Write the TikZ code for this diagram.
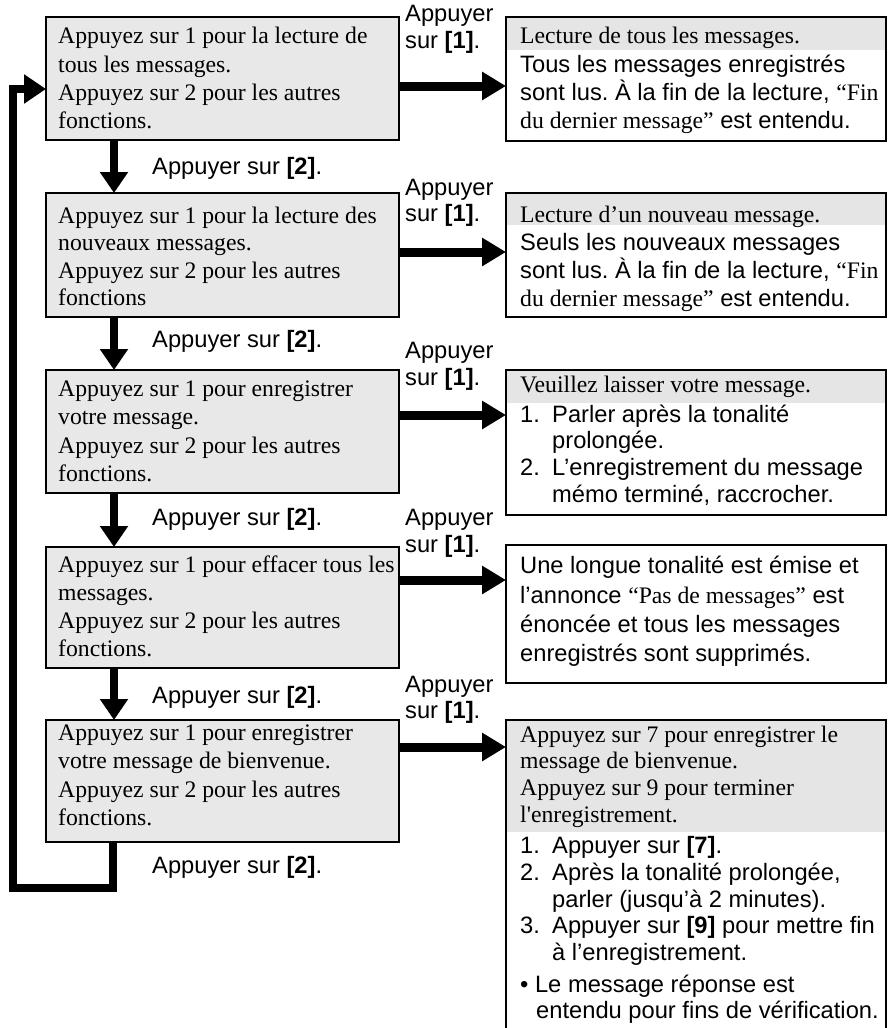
\documentclass[tikz,border=0pt]{standalone}
\usepackage{fontspec}
\setmainfont{Liberation Serif}
\setsansfont{Liberation Sans}
\usetikzlibrary{arrows.meta}
\frenchspacing
\begin{document}
\begin{tikzpicture}[x=1pt,y=-1pt,
  box/.style={draw, line width=2pt, rectangle, anchor=north west, inner sep=0pt, outer sep=0pt},
  lbox/.style={box, fill=black!9, minimum width=353pt},
  rbox/.style={box, fill=white, minimum width=380pt},
  hdr/.style={fill=black!10},
  rm/.style={font=\rmfamily\fontsize{23.7}{27}\selectfont, inner sep=0pt, anchor=base west},
  sf/.style={font=\sffamily\fontsize{23.7}{27}\selectfont, inner sep=0pt, anchor=base west},
  harrow/.style={line width=9pt, -{Triangle[length=24pt,width=27pt]}},
  varrow/.style={line width=8pt, -{Triangle[length=21pt,width=27pt]}},
  backline/.style={line width=8pt, line join=miter, -{Triangle[length=22pt,width=28pt]}}]
\useasboundingbox (0,0) rectangle (888,1028);

% left boxes
\node[lbox, minimum height=123pt] (L1) at (46,17) {};
\node[lbox, minimum height=124pt] (L2) at (46,193) {};
\node[lbox, minimum height=123pt] (L3) at (46,370) {};
\node[lbox, minimum height=121pt] (L4) at (46,547) {};
\node[lbox, minimum height=122pt] (L5) at (46,720) {};

% right boxes
\node[rbox, minimum height=124pt] (R1) at (506,17) {};
\node[rbox, minimum height=124pt] (R2) at (506,193) {};
\node[rbox, minimum height=145pt] (R3) at (506,370) {};
\node[rbox, minimum height=138pt] (R4) at (506,545) {};
\node[rbox, draw=none, minimum height=308pt] (R5) at (506,720) {};
\draw[line width=2pt] (R5.south west) -- (R5.north west) -- (R5.north east) -- (R5.south east);

% headers
\fill[hdr] ([shift={(1,1)}]R1.north west) rectangle ([shift={(-1,33)}]R1.north east);
\fill[hdr] ([shift={(1,1)}]R2.north west) rectangle ([shift={(-1,32)}]R2.north east);
\fill[hdr] ([shift={(1,1)}]R3.north west) rectangle ([shift={(-1,33)}]R3.north east);
\fill[hdr] ([shift={(1,1)}]R5.north west) rectangle ([shift={(-1,112)}]R5.north east);

% left texts
\node[rm] (L1a) at (58,43) {Appuyez sur 1 pour la lecture de};
\node[rm] (L1b) at (58,72) {tous les messages.};
\node[rm] (L1c) at (58,100) {Appuyez sur 2 pour les autres};
\node[rm] (L1d) at (58,128) {fonctions.};

\node[rm] (L2a) at (58,223) {Appuyez sur 1 pour la lecture des};
\node[rm] (L2b) at (58,250) {nouveaux messages.};
\node[rm] (L2c) at (58,278) {Appuyez sur 2 pour les autres};
\node[rm] (L2d) at (58,305) {fonctions};

\node[rm] (L3a) at (58,396) {Appuyez sur 1 pour enregistrer};
\node[rm] (L3b) at (58,424) {votre message.};
\node[rm] (L3c) at (58,453) {Appuyez sur 2 pour les autres};
\node[rm] (L3d) at (58,481) {fonctions.};

\node[rm] (L4a) at (58,572) {Appuyez sur 1 pour effacer tous les};
\node[rm] (L4b) at (58,600) {messages.};
\node[rm] (L4c) at (58,628) {Appuyez sur 2 pour les autres};
\node[rm] (L4d) at (58,656) {fonctions.};

\node[rm] (L5a) at (58,740) {Appuyez sur 1 pour enregistrer};
\node[rm] (L5b) at (58,768) {votre message de bienvenue.};
\node[rm] (L5c) at (58,797) {Appuyez sur 2 pour les autres};
\node[rm] (L5d) at (58,825) {fonctions.};

% right texts
\node[rm] (R1a) at (520,43) {Lecture de tous les messages.};
\node[sf] (R1b) at (520,72) {Tous les messages enregistrés};
\node[sf] (R1c) at (520,100) {sont lus. À la fin de la lecture, {\rmfamily “Fin}};
\node[sf] (R1d) at (520,128) {{\rmfamily du dernier message”} est entendu.};

\node[rm] (R2a) at (520,222) {Lecture d’un nouveau message.};
\node[sf] (R2b) at (520,250) {Seuls les nouveaux messages};
\node[sf] (R2c) at (520,278) {sont lus. À la fin de la lecture, {\rmfamily “Fin}};
\node[sf] (R2d) at (520,306) {{\rmfamily du dernier message”} est entendu.};

\node[rm] (R3a) at (520,392) {Veuillez laisser votre message.};
\node[sf] (R3b) at (520,422) {\makebox[32pt][l]{1.}Parler après la tonalité};
\node[sf] (R3c) at (552,448) {prolongée.};
\node[sf] (R3d) at (520,475) {\makebox[32pt][l]{2.}L’enregistrement du message};
\node[sf] (R3e) at (552,502) {mémo terminé, raccrocher.};

\node[sf] (R4a) at (520,573) {Une longue tonalité est émise et};
\node[sf] (R4b) at (520,603) {l’annonce {\rmfamily “Pas de messages”} est};
\node[sf] (R4c) at (520,632) {énoncée et tous les messages};
\node[sf] (R4d) at (520,661) {enregistrés sont supprimés.};

\node[rm] (R5a) at (520,742) {Appuyez sur 7 pour enregistrer le};
\node[rm] (R5b) at (520,768) {message de bienvenue.};
\node[rm] (R5c) at (520,795) {Appuyez sur 9 pour terminer};
\node[rm] (R5d) at (520,822) {l\textquotesingle enregistrement.};
\node[sf] (R5e) at (520,853) {\makebox[32pt][l]{1.}Appuyer sur \textbf{[7]}.};
\node[sf] (R5f) at (520,880) {\makebox[32pt][l]{2.}Après la tonalité prolongée,};
\node[sf] (R5g) at (552,907) {parler (jusqu’à 2 minutes).};
\node[sf] (R5h) at (520,933) {\makebox[32pt][l]{3.}Appuyer sur \textbf{[9]} pour mettre fin};
\node[sf] (R5i) at (552,960) {à l’enregistrement.};
\node[sf] (R5j) at (520,992) {• Le message réponse est};
\node[sf] (R5k) at (536,1018) {entendu pour fins de vérification.};

% labels "Appuyer sur [2]."
\node[sf] (D1) at (152,174) {Appuyer sur \textbf{[2]}.};
\node[sf] (D2) at (152,347) {Appuyer sur \textbf{[2]}.};
\node[sf] (D3) at (152,525) {Appuyer sur \textbf{[2]}.};
\node[sf] (D4) at (152,703) {Appuyer sur \textbf{[2]}.};
\node[sf] (D5) at (152,873) {Appuyer sur \textbf{[2]}.};

% labels "Appuyer sur [1]."
\node[sf] (P1a) at (405,21) {Appuyer};
\node[sf] (P1b) at (405,48) {sur \textbf{[1]}.};
\node[sf] (P2a) at (405,195) {Appuyer};
\node[sf] (P2b) at (405,221) {sur \textbf{[1]}.};
\node[sf] (P3a) at (405,358) {Appuyer};
\node[sf] (P3b) at (405,385) {sur \textbf{[1]}.};
\node[sf] (P4a) at (405,525) {Appuyer};
\node[sf] (P4b) at (405,552) {sur \textbf{[1]}.};
\node[sf] (P5a) at (405,692) {Appuyer};
\node[sf] (P5b) at (405,718) {sur \textbf{[1]}.};

% horizontal arrows
\coordinate (a1) at (0,86);
\coordinate (a2) at (0,252);
\coordinate (a3) at (0,415);
\coordinate (a4) at (0,580);
\coordinate (a5) at (0,747);
\draw[harrow] (L1.east |- a1) -- (R1.west |- a1);
\draw[harrow] (L2.east |- a2) -- (R2.west |- a2);
\draw[harrow] (L3.east |- a3) -- (R3.west |- a3);
\draw[harrow] (L4.east |- a4) -- (R4.west |- a4);
\draw[harrow] (L5.east |- a5) -- (R5.west |- a5);

% vertical arrows
\draw[varrow] ([xshift=68pt]L1.south west) -- ([xshift=68pt]L2.north west);
\draw[varrow] ([xshift=68pt]L2.south west) -- ([xshift=68pt]L3.north west);
\draw[varrow] ([xshift=68pt]L3.south west) -- ([xshift=68pt]L4.north west);
\draw[varrow] ([xshift=68pt]L4.south west) -- ([xshift=68pt]L5.north west);

% loop back
\coordinate (lb) at (13,888);
\coordinate (lt) at (13,89);
\draw[backline] ([xshift=67pt]L5.south west) |- (lb) -- (lt) -- (L1.west |- lt);
\end{tikzpicture}
\end{document}
